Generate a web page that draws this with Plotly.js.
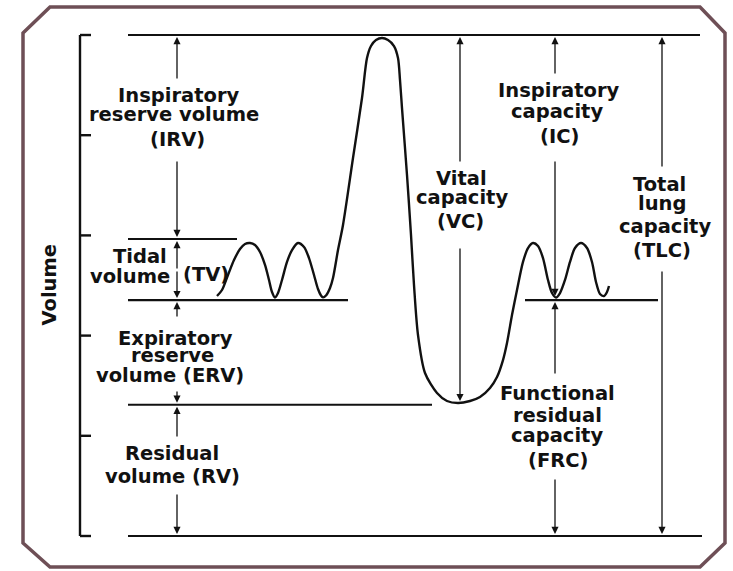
<!DOCTYPE html>
<html><head><meta charset="utf-8">
<script src="https://cdn.plot.ly/plotly-3.0.1.min.js"></script>
<style>html,body{margin:0;padding:0;background:#fff}#chart{width:733px;height:571px}</style>
</head><body><div id="chart"></div>
<script>
// ---- DATA (volume in litres above the zero line; time in arbitrary units) ----
const bracketTicks = [0, 1, 2, 3, 4, 5];
// levels: zero, residual volume, FRC (end expiration), end inspiration, TLC
const levelVolumes = [0, 1.31, 2.355, 2.964, 5.0];
// horizontal reference lines: which level, start time, end time
const refLevel = [4, 3, 2, 1, 2, 0];
const refStart = [128, 128, 128, 128, 525, 128];
const refEnd   = [700, 237, 348, 432, 658, 702];

// spirogram trace
const breathTime = [217,222,228,234,240,245,250,255,260,265,269,272,275,278,282,287,292,298,304,309,314,318,321,323,326,330,333,338,343,353,362,367,371,376,382,388,394,398,400,402,407,411,414,418,425,437,447,458,470,480,490,497,503,507,512,517,523,528,533,538,543,548,552,556,560,565,570,575,581,587,592,596,600,604,607,609];
const breathVolume = [2.395,2.455,2.605,2.754,2.864,2.914,2.924,2.904,2.834,2.705,2.555,2.435,2.380,2.425,2.555,2.735,2.854,2.924,2.884,2.774,2.605,2.465,2.400,2.382,2.400,2.475,2.575,2.854,3.104,3.772,4.371,4.770,4.890,4.950,4.970,4.950,4.890,4.770,4.551,4.271,3.603,3.004,2.505,2.006,1.627,1.427,1.347,1.327,1.347,1.387,1.477,1.587,1.756,1.926,2.206,2.455,2.735,2.874,2.924,2.894,2.774,2.555,2.425,2.380,2.425,2.555,2.735,2.874,2.924,2.874,2.735,2.535,2.415,2.395,2.435,2.495];

// ---- LAYOUT HELPERS ----
const W = 733, H = 571, BASE = 536, PXL = 100.2;
const Y = p => (BASE - p) / PXL;       // page pixel row -> volume
const dipMin = Math.min(...breathVolume);

// labels: text, x, pixel row of line centre
const labels = [
  ['Inspiratory',178,95.5],['reserve volume',174,114.5],['(IRV)',177,139.5],
  ['Tidal',140,256.5],['volume',130,276.5],['(TV)',206,274],
  ['Expiratory',175,338.5],['reserve',172,355.5],['volume (ERV)',170,375.5],
  ['Residual',172,453.5],['volume (RV)',172,476.5],
  ['Vital',461,178.5],['capacity',462,197],['(VC)',460,221],
  ['Inspiratory',558,90.5],['capacity',557,111.5],['(IC)',559,136.5],
  ['Total',659,184.5],['lung',662,203.5],['capacity',665,226.5],['(TLC)',662,250.5],
  ['Functional',557,393.5],['residual',557,415.5],['capacity',557,435.5],['(FRC)',558,460.5]
];
// arrows: x, tail pixel row, tip volume
const tipGap = 0.02;
const arrows = [
  [177, 80,  levelVolumes[4]-tipGap], [177,160, levelVolumes[3]+tipGap],
  [177,270,  levelVolumes[3]-tipGap], [177,270, levelVolumes[2]+tipGap],
  [177,318,  levelVolumes[2]-tipGap], [177,390, levelVolumes[1]+tipGap],
  [177,438,  levelVolumes[1]-tipGap], [177,493, levelVolumes[0]+tipGap],
  [460,163,  levelVolumes[4]-tipGap], [460,247, dipMin+tipGap],
  [555, 75,  levelVolumes[4]-tipGap], [555,160, levelVolumes[2]+tipGap+0.02],
  [555,375,  levelVolumes[2]-tipGap], [555,478, levelVolumes[0]+tipGap],
  [662,168,  levelVolumes[4]-tipGap], [662,270, levelVolumes[0]+tipGap]
];

const font = {family:'DejaVu Sans', size:19.5, color:'#111', weight:'bold'};
const annotations = [];
labels.forEach(([t,x,p]) => annotations.push({text:t, x:x, y:Y(p), xref:'x', yref:'y',
  showarrow:false, xanchor:'center', yanchor:'middle', font:font}));
arrows.forEach(([x,p,tip]) => annotations.push({text:'', x:x, y:tip, ax:x, ay:Y(p),
  xref:'x', yref:'y', axref:'x', ayref:'y', showarrow:true, arrowhead:2, arrowsize:1.1,
  arrowwidth:1.3, arrowcolor:'#111', standoff:0, startstandoff:0}));
annotations.push({text:'Volume', x:48.5, y:Y(285), xref:'x', yref:'y', showarrow:false,
  textangle:-90, font:font});

// traces
const traces = [];
// bracket axis
const bx = [], by = [];
bx.push(80, 80, null); by.push(bracketTicks[0], bracketTicks[bracketTicks.length-1], null);
bracketTicks.forEach(t => { bx.push(80, 91, null); by.push(t, t, null); });
traces.push({x:bx, y:by, mode:'lines', line:{color:'#111', width:2.4}, hoverinfo:'skip'});
// reference lines
const rx = [], ry = [];
refLevel.forEach((li,i) => { rx.push(refStart[i], refEnd[i], null); ry.push(levelVolumes[li], levelVolumes[li], null); });
traces.push({x:rx, y:ry, mode:'lines', line:{color:'#111', width:2.2}, hoverinfo:'skip'});
// spirogram
traces.push({x:breathTime, y:breathVolume, mode:'lines', line:{color:'#111', width:2.4, shape:'spline', smoothing:0.8}, hoverinfo:'skip'});

// frame (octagonal border)
const fr = [[50,7],[700,7],[725,33],[725,543],[700,567],[50,567],[23,543],[23,33]];
const framePath = 'M ' + fr.map(([x,p]) => x + ' ' + Y(p)).join(' L ') + ' Z';

const layout = {
  width:W, height:H, margin:{l:0,r:0,t:0,b:0}, showlegend:false,
  paper_bgcolor:'#fff', plot_bgcolor:'#fff',
  xaxis:{range:[0,W], visible:false, fixedrange:true},
  yaxis:{range:[Y(H), Y(0)], visible:false, fixedrange:true},
  shapes:[{type:'path', xref:'x', yref:'y', path:framePath, line:{color:'#6e4f56', width:3.5}, layer:'below'}],
  annotations:annotations
};
Plotly.newPlot('chart', traces, layout, {staticPlot:true, displayModeBar:false});
</script></body></html>
